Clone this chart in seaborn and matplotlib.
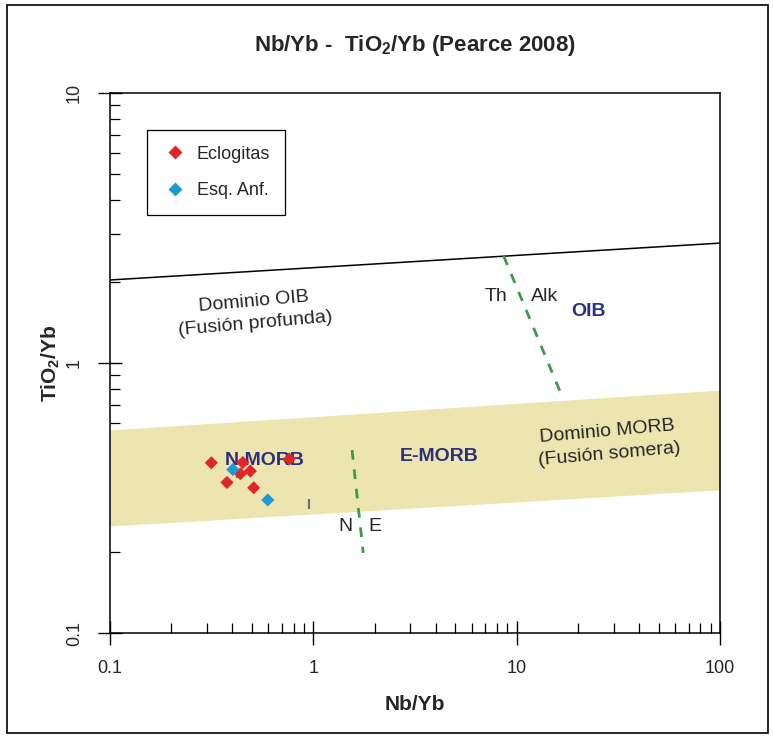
import matplotlib
matplotlib.use("Agg")
import matplotlib.pyplot as plt
from matplotlib.patches import Rectangle
from matplotlib.ticker import LogLocator, FixedLocator, FixedFormatter, NullFormatter
import seaborn as sns
import pandas as pd

# Sample ratios
eclogita_nb_yb = [0.315, 0.450, 0.762, 0.490, 0.438, 0.376, 0.509]
eclogita_ti_yb = [0.427, 0.428, 0.441, 0.398, 0.389, 0.361, 0.345]
esq_anf_nb_yb = [0.402, 0.597]
esq_anf_ti_yb = [0.403, 0.311]
groups = ["Eclogitas", "Esq. Anf."]

# Small grey marks
mark_nb_yb = [0.42, 0.955]
mark_ti_yb = [0.39, 0.30]

# Discrimination lines
boundary_x = [0.1, 100]
oib_boundary_y = [2.03, 2.78]
morb_low_y = [0.249, 0.339]
morb_high_y = [0.565, 0.794]
ne_line_x = [1.55, 1.76]
ne_line_y = [0.476, 0.198]
th_alk_line_x = [8.63, 16.4]
th_alk_line_y = [2.49, 0.78]

x_ticks = [0.1, 1, 10, 100]
x_tick_labels = ["0.1", "1", "10", "100"]
y_ticks = [0.1, 1, 10]
y_tick_labels = ["0.1", "1", "10"]

sns.set_theme(style="white")
plt.rcParams["font.family"] = ["Liberation Sans", "DejaVu Sans"]
plt.rcParams["mathtext.fontset"] = "custom"
plt.rcParams["mathtext.rm"] = "Liberation Sans"
plt.rcParams["mathtext.bf"] = "Liberation Sans:bold"

df = pd.DataFrame({
    "Nb/Yb": eclogita_nb_yb + esq_anf_nb_yb,
    "TiO2/Yb": eclogita_ti_yb + esq_anf_ti_yb,
    "grupo": [groups[0]] * len(eclogita_nb_yb) + [groups[1]] * len(esq_anf_nb_yb),
})

fig = plt.figure(figsize=(7.73, 7.37), dpi=100)
ax = fig.add_axes([110 / 773, 1 - 633 / 737, 610 / 773, 540 / 737])
ax.set_xscale("log")
ax.set_yscale("log")
ax.set_xlim(0.1, 100)
ax.set_ylim(0.1, 10)

navy = "#2d2f7f"
green = "#3e9a4a"

ax.fill_between(boundary_x, morb_low_y, morb_high_y, color="#ede5b0", lw=0, zorder=1)
ax.plot(boundary_x, oib_boundary_y, color="black", lw=1.1, zorder=2)
ax.plot(ne_line_x, ne_line_y, color=green, lw=2, ls=(0, (3.5, 3.5)), zorder=2)
ax.plot(th_alk_line_x, th_alk_line_y, color=green, lw=2, ls=(0, (3.5, 3.5)), zorder=2)

ax.text(0.514, 1.53, "Dominio OIB\n(Fusión profunda)", fontsize=14, ha="center",
        va="center", rotation=5, linespacing=1.4, zorder=3)
ax.text(28.3, 0.506, "Dominio MORB\n(Fusión somera)", fontsize=14, ha="center",
        va="center", rotation=5, linespacing=1.4, zorder=3)
ax.text(7.89, 1.77, "Th", fontsize=14, ha="center", va="center", zorder=3)
ax.text(13.7, 1.77, "Alk", fontsize=14, ha="center", va="center", zorder=3)
ax.text(1.44, 0.247, "N", fontsize=14, ha="center", va="center", zorder=3)
ax.text(2.01, 0.247, "E", fontsize=14, ha="center", va="center", zorder=3)
ax.text(22.5, 1.55, "OIB", fontsize=14, fontweight="bold", color=navy,
        ha="center", va="center", zorder=3)
ax.text(0.575, 0.437, "N-MORB", fontsize=14, fontweight="bold", color=navy,
        ha="center", va="center", zorder=3)
ax.text(4.15, 0.449, "E-MORB", fontsize=14, fontweight="bold", color=navy,
        ha="center", va="center", zorder=3)

ax.scatter(mark_nb_yb, mark_ti_yb, marker="|", s=45, color="#707070", lw=1.6, zorder=4)

sns.scatterplot(data=df, x="Nb/Yb", y="TiO2/Yb", hue="grupo", style="grupo",
                markers={"Eclogitas": "D", "Esq. Anf.": "D"},
                palette={"Eclogitas": "#e0262b", "Esq. Anf.": "#1d9ad6"},
                s=45, edgecolor="none", ax=ax, zorder=5)

leg = ax.legend(loc="upper left", bbox_to_anchor=(0.0607, 0.931), borderaxespad=0,
                fontsize=13, frameon=True, fancybox=False, edgecolor="black",
                framealpha=1, labelspacing=1.1, borderpad=0.85, handletextpad=0.5,
                markerscale=1.1, handlelength=1.4)
leg.get_frame().set_linewidth(0.9)

for side in ["left", "right", "top", "bottom"]:
    ax.spines[side].set_visible(True)
    ax.spines[side].set_color("black")
    ax.spines[side].set_linewidth(1.1)

ax.xaxis.set_major_locator(FixedLocator(x_ticks))
ax.xaxis.set_major_formatter(FixedFormatter(x_tick_labels))
ax.yaxis.set_major_locator(FixedLocator(y_ticks))
ax.yaxis.set_major_formatter(FixedFormatter(y_tick_labels))
ax.xaxis.set_minor_locator(LogLocator(base=10, subs=range(2, 10)))
ax.yaxis.set_minor_locator(LogLocator(base=10, subs=range(2, 10)))
ax.xaxis.set_minor_formatter(NullFormatter())
ax.yaxis.set_minor_formatter(NullFormatter())
ax.tick_params(which="major", direction="inout", length=17, width=1.0, color="black",
               labelsize=13, bottom=True, left=True, top=False, right=False)
ax.tick_params(which="minor", direction="in", length=7.5, width=0.9, color="black",
               bottom=True, left=True, top=False, right=False)
ax.tick_params(axis="x", which="major", pad=11)
ax.tick_params(axis="y", which="major", pad=11)
for lbl in ax.get_yticklabels():
    lbl.set_rotation(90)
    lbl.set_va("center")

ax.set_xlabel("Nb/Yb", fontsize=15, fontweight="bold", labelpad=13)
ax.set_ylabel(r"TiO$_\mathbf{2}$/Yb", fontsize=15, fontweight="bold", labelpad=3)

fig.text(415 / 773, 1 - 46 / 737, r"Nb/Yb -  TiO$_\mathbf{2}$/Yb (Pearce 2008)",
         fontsize=16, fontweight="bold", ha="center", va="center")

fig.patches.append(Rectangle((7 / 773, 4 / 737), 761 / 773, 728 / 737,
                             transform=fig.transFigure, fill=False, lw=1.2,
                             ec="black"))

fig.savefig("out.png", dpi=100, facecolor="white")
